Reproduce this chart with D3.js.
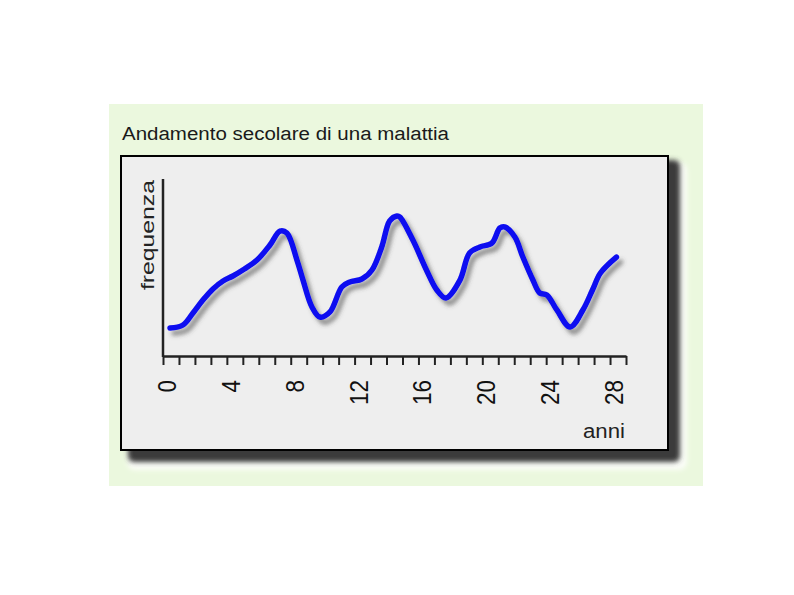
<!DOCTYPE html>
<html>
<head>
<meta charset="utf-8">
<script src="https://cdn.jsdelivr.net/npm/d3@7"></script>
<style>
  html, body { margin: 0; padding: 0; background: #ffffff; }
  svg { display: block; }
  text { font-family: Arial, "Liberation Sans", sans-serif; }
</style>
</head>
<body>
<svg id="chart" width="794" height="595"></svg>
<script>
// ---- data ----
const title = "Andamento secolare di una malattia";
const yLabel = "frequenza";
const xLabel = "anni";
const years = [0.44, 1.25, 1.88, 2.5, 3.13, 3.76, 4.38, 5.0, 5.89, 6.7, 7.33, 7.76, 8.39, 8.77, 9.33, 9.83,
  10.46, 11.2, 11.7, 12.46, 13.09, 13.7, 14.2, 14.65, 14.84, 15.65, 16.5, 17.15, 17.72, 18.6, 19.2, 19.85,
  20.6, 21.1, 21.4, 22.04, 22.54, 23.17, 23.6, 24.04, 24.67, 25.5, 26.3, 26.9, 27.4, 28.4];
const frequency = [15.8, 17.5, 24.3, 31.6, 37.9, 42.4, 45.2, 48.6, 54.2, 62.7, 70.6, 69.5, 54.2, 42.9, 27.7, 22.0,
  24.9, 39.0, 41.8, 43.5, 48.6, 61.6, 76.3, 79.1, 78.5, 65.5, 48.6, 37.3, 32.8, 42.9, 58.2, 61.6,
  63.8, 72.3, 72.9, 67.2, 55.9, 42.9, 35.6, 34.5, 26.0, 16.4, 26.0, 37.3, 46.9, 55.9];
const tickValues = d3.range(0, 30);
const tickLabels = [0, 4, 8, 12, 16, 20, 24, 28];

// ---- drawing ----
const svg = d3.select("#chart");
const defs = svg.append("defs");

const lineShadow = defs.append("filter").attr("id", "lineShadow")
  .attr("x", "-10%").attr("y", "-10%").attr("width", "120%").attr("height", "130%");
lineShadow.append("feDropShadow").attr("dx", 4).attr("dy", 5).attr("stdDeviation", 2.2)
  .attr("flood-color", "#444").attr("flood-opacity", 0.55);

const blur = defs.append("filter").attr("id", "blur")
  .attr("x", "-10%").attr("y", "-10%").attr("width", "120%").attr("height", "120%");
blur.append("feGaussianBlur").attr("stdDeviation", 2.5);

// green outer background
svg.append("rect").attr("x", 109).attr("y", 104).attr("width", 594).attr("height", 382)
  .attr("fill", "#ebf8de");

// panel shadow (halo + dark)
svg.append("rect").attr("x", 127).attr("y", 162).attr("width", 560).attr("height", 308)
  .attr("rx", 8).attr("fill", "#fbfdf8").attr("filter", "url(#blur)");
svg.append("rect").attr("x", 128).attr("y", 160).attr("width", 552).attr("height", 302)
  .attr("rx", 6).attr("fill", "#3a3a3a").attr("filter", "url(#blur)");

// panel
svg.append("rect").attr("x", 121).attr("y", 156).attr("width", 547).attr("height", 294)
  .attr("fill", "#eeeeee").attr("stroke", "#000").attr("stroke-width", 2);

// title
svg.append("text").attr("x", 122).attr("y", 140)
  .attr("font-size", 18).attr("fill", "#1a1a1a")
  .attr("textLength", 327).attr("lengthAdjust", "spacingAndGlyphs")
  .text(title);

// scales
const x = d3.scaleLinear().domain([0, 29]).range([163, 626]);
const y = d3.scaleLinear().domain([0, 100]).range([356, 179]);

// y axis line
svg.append("line").attr("x1", 163).attr("x2", 163).attr("y1", y(100)).attr("y2", y(0) + 1)
  .attr("stroke", "#222").attr("stroke-width", 2.5);

// x axis with d3 axis
const xAxis = d3.axisBottom(x).tickValues(tickValues).tickSize(9).tickSizeOuter(0).tickFormat("");
const gx = svg.append("g").attr("transform", `translate(0,${y(0)})`).call(xAxis);
gx.select(".domain").attr("stroke", "#222").attr("stroke-width", 2.5);
gx.selectAll(".tick line").attr("stroke", "#222").attr("stroke-width", 2);

// tick labels
svg.append("g").selectAll("text").data(tickLabels).join("text")
  .attr("transform", d => `translate(${x(d) + 4},380) rotate(-90)`)
  .attr("text-anchor", "end")
  .attr("dominant-baseline", "central")
  .attr("font-size", 26)
  .attr("fill", "#111")
  .attr("textLength", d => String(d).length * 12.5)
  .attr("lengthAdjust", "spacingAndGlyphs")
  .text(d => d);

// axis titles
svg.append("text")
  .attr("transform", "translate(147,235) rotate(-90)")
  .attr("text-anchor", "middle").attr("dominant-baseline", "central")
  .attr("font-size", 19).attr("fill", "#222")
  .attr("textLength", 110).attr("lengthAdjust", "spacingAndGlyphs")
  .text(yLabel);

svg.append("text").attr("x", 583).attr("y", 438)
  .attr("font-size", 20).attr("fill", "#222")
  .attr("textLength", 42).attr("lengthAdjust", "spacingAndGlyphs")
  .text(xLabel);

// the curve
const pts = years.map((yr, i) => [yr, frequency[i]]);
const line = d3.line().x(d => x(d[0])).y(d => y(d[1])).curve(d3.curveCatmullRom.alpha(0.5));
svg.append("path").datum(pts).attr("d", line)
  .attr("fill", "none").attr("stroke", "#0a0af0").attr("stroke-width", 5.5)
  .attr("stroke-linejoin", "round").attr("stroke-linecap", "round")
  .attr("filter", "url(#lineShadow)");
</script>
</body>
</html>
